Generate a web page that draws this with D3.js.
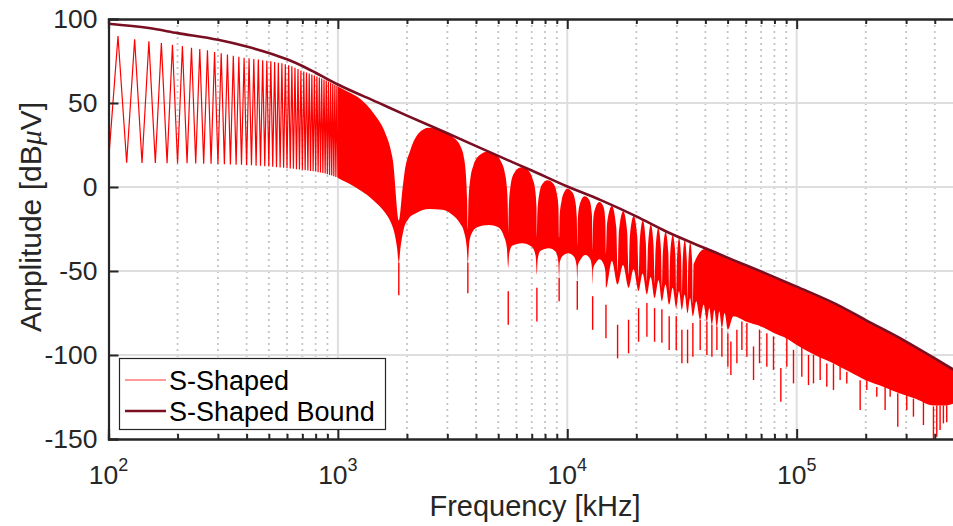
<!DOCTYPE html>
<html lang="en">
<head>
<meta charset="UTF-8" />
<title>S-Shaped spectrum</title>
<script src="https://d3js.org/d3.v7.min.js"></script>
<style>
  body { margin: 0; background: #fff; }
  svg { display: block; font-family: "Liberation Sans", Arial, sans-serif; }
</style>
</head>
<body>
<svg width="953" height="526" id="chart"></svg>
<script>
// ---- data (frequency in kHz, amplitude in dBuV) ----
const boundKHz = [100, 150, 200, 300, 400, 500, 600, 700, 800, 1000, 1500, 2000, 3000, 5000, 7000, 10000,
  14000, 20000, 27000, 40000, 53000, 75000, 100000, 150000, 200000, 300000, 400000, 500000];
const boundDb = [97.2, 94.6, 91.6, 87.6, 83.6, 79.8, 76, 72, 68, 61, 50.2, 42.5, 32, 18.5, 9.8, 0.3,
  -7.8, -17.5, -26.5, -36.5, -43.5, -52, -59.3, -70, -79.2, -92, -102, -110];

// individual harmonics (10 kHz spacing) where the comb is still resolved
const combKHz = [100, 110, 120, 130, 140, 150, 160, 170, 180, 190, 200, 210, 220, 230, 240, 250, 260, 270, 280, 290,
  300, 310, 320, 330, 340, 350, 360, 370, 380, 390, 400, 410, 420, 430, 440, 450, 460, 470, 480, 490,
  500, 510, 520, 530, 540, 550, 560, 570, 580, 590, 600, 610, 620, 630, 640, 650, 660, 670, 680, 690,
  700, 710, 720, 730, 740, 750, 760, 770, 780, 790, 800, 810, 820, 830, 840, 850, 860, 870, 880, 890,
  900, 910, 920, 930, 940, 950, 960, 970, 980, 990, 1000];
const combDb = [14.9, 89.9, 14.4, 87.9, 14.3, 86.7, 14.3, 85.7, 14.2, 84.7, 14.2, 83.9, 14.1, 82.9, 14.0, 82.1, 13.9, 81.4, 13.8, 80.4,
  13.7, 79.6, 13.6, 78.8, 13.4, 78.1, 13.3, 77.5, 13.2, 77.0, 13.0, 76.6, 12.9, 76.2, 12.7, 75.9, 12.6, 75.5, 12.4, 75.2,
  12.2, 74.8, 12.0, 74.4, 11.8, 74.0, 11.6, 73.6, 11.4, 73.1, 11.2, 72.5, 11.0, 71.8, 10.8, 71.0, 10.6, 70.2, 10.4, 69.4,
  10.2, 68.8, 10.0, 68.2, 9.8, 67.6, 9.6, 67.0, 9.4, 66.4, 9.2, 65.8, 8.8, 65.2, 8.6, 64.6, 8.4, 64.0, 8.0, 63.4,
  7.6, 62.8, 7.2, 62.2, 6.8, 61.5, 6.4, 60.8, 6.0, 60.2, 5.6];

// upper edge of the dense part of the spectrum
const topKHz = [1000, 1100, 1250, 1430, 1610, 1700, 1750, 1790, 1815, 1843,
  1870, 1900, 1950, 2070, 2250, 2490, 2800, 3150, 3430, 3560, 3620, 3660, 3686,
  3710, 3780, 3900, 4150, 4480, 4850, 5150, 5350, 5450, 5500, 5529,
  5560, 5650, 5850, 6300, 6750, 7050, 7250, 7340, 7372,
  7410, 7550, 7800, 8200, 8700, 9000, 9150, 9215,
  9260, 9450, 9700, 10000, 10500, 10850, 11000, 11058,
  11110, 11300, 11900, 12500, 12800, 12901,
  12950, 13150, 13800, 14400, 14650, 14744,
  14900, 15650, 16350, 16570, 16800, 17530, 18250, 18500, 18750, 19480, 20200, 20460, 20700, 21350,
  22000, 22240, 22480, 23130, 23780, 24020, 24260, 24930, 25600, 25850, 26100, 26830, 27570, 27820,
  28070, 28830, 29600, 29850, 30100, 30720, 31350, 31600, 31850, 32520, 33200, 33450, 33700, 34360,
  35030, 35280, 35530,
  40000, 53000, 75000, 100000, 150000, 200000, 300000, 400000, 500000];
const topDb = [59.8, 56.8, 52.5, 43.9, 32, 22, 12.1, -5, -15, -20,
  -15, -5, 8.2, 22, 32, 35.3, 33.9, 30, 24, 16, 6, -8, -25,
  -8, 5, 13, 19, 21, 19.5, 15, 8, 0, -10, -28,
  -12, 0, 8, 11.7, 10, 5, -2, -12, -30,
  -15, -4, 2, 4, 2, -4, -12, -30,
  -18, -8, -3, -1, -3, -9, -18, -35,
  -20, -11, -5.5, -8, -16, -38,
  -22, -14, -9, -12, -20, -40,
  -22, -11.3, -24, -50, -26, -14.4, -27, -52, -29, -17.3, -30, -54, -32, -20,
  -33, -56, -35, -22.4, -35, -58, -37, -24.6, -37, -60, -39, -26.8, -39, -62,
  -41, -28.7, -41, -64, -42, -30.3, -42, -65, -44, -31.7, -44, -67, -45, -33.1,
  -45, -69, -46,
  -36.8, -43.8, -52.3, -59.6, -70.3, -79.5, -92.3, -102.3, -110.3];

// lower edge of the dense part (domes between the nulls)
const lowKHz = [1000, 1100, 1250, 1430, 1610, 1700, 1760, 1810, 1843,
  1875, 1930, 2030, 2200, 2500, 2850, 3150, 3400, 3550, 3640, 3686,
  3730, 3820, 4050, 4550, 5000, 5280, 5450, 5529,
  5580, 5750, 6350, 7000, 7280, 7372,
  7430, 7650, 8300, 8900, 9130, 9215,
  9270, 9550, 10100, 10700, 10980, 11058,
  11120, 11450, 12000, 12600, 12830, 12901,
  12960, 13350, 13800, 14350, 14680, 14744,
  15650, 16570, 17500, 18500, 19450, 20460, 21300, 22240, 23100, 24020, 25000, 25850, 26800, 27820,
  28800, 29850, 30700, 31600, 32500, 33450, 34300, 35280, 36500, 37970, 39300, 40610, 41600, 42700,
  43800, 44900, 46000, 47210, 48500, 50130, 53000, 60000, 70000, 80000, 90000, 100000, 120000, 145000,
  170000, 200000, 240000, 280000, 330000, 395000, 450000, 500000];
const lowDb = [5.4, 2.5, -2, -8, -15.5, -21, -27, -36, -45,
  -36, -26, -19, -15.5, -13.1, -13.5, -16.5, -21.5, -27, -35, -45,
  -35, -28, -24, -22.6, -24, -29, -36, -48,
  -40, -35, -33.5, -35.5, -41, -52,
  -43, -38, -36.5, -38.5, -44, -54,
  -45, -41, -39.5, -41.5, -47, -56,
  -47, -43, -40.5, -43, -49, -58,
  -49, -45, -43, -45.5, -51, -60,
  -44, -58, -46.5, -60, -49, -62, -51.5, -64, -53.5, -66, -55.5, -68, -58, -70,
  -60, -72, -62, -73, -64, -75, -66, -77, -68, -79, -70, -80, -72, -82,
  -73, -83, -74, -84, -75, -85, -77, -80, -83, -87, -90, -94, -100, -105,
  -110, -115, -119, -122.8, -126, -130, -130, -128];

// narrow dips below the lower edge
const spikeKHz = [1843, 3686, 5529, 7372, 9215, 11058, 12901, 14744, 16570, 18500, 20460, 22240, 24020, 25850,
  27820, 29850, 31600, 33450, 35280, 37970, 40610, 42700, 44900, 47210, 50130, 51670, 54880, 57700,
  60670, 64860, 68870, 74130, 79250, 85310, 90600, 96870, 105300, 112600, 118400, 126600, 135300,
  144700, 154700, 165400, 189100, 202200, 223500, 243000, 255600, 275900, 302000, 322900, 357000,
  394700, 408100, 421900, 436200, 451000];
const spikeDb = [-64.5, -63.3, -82, -80, -68, -73, -85, -90.1, -102, -99, -92.1, -89.1, -92.1, -92.7,
  -97, -97, -104.9, -104.9, -101, -97, -100, -101, -97, -101, -107, -111.9, -104.9, -97,
  -101, -114.9, -104.9, -107, -108.9, -127.8, -107, -116.9, -112.9, -117.9, -116.9, -114.9, -118.9,
  -120.8, -114.9, -116.9, -132.7, -120.8, -124.8, -132.7, -124.8, -142.7, -132.7, -136.7, -141.7,
  -150.6, -148.6, -144.6, -140.7, -140];

const xTicks = [100, 1000, 10000, 100000];
const yTicks = [-150, -100, -50, 0, 50, 100];
const legendNames = ["S-Shaped", "S-Shaped Bound"];

// ---- layout ----
const svg = d3.select("#chart");
const plotL = 108.5, plotR = 957, plotT = 19, plotB = 439;
const red = "#ff0000", maroon = "#7a0f22", axisColor = "#262626";

const x = d3.scaleLog().domain([100, 500000]).range([plotL, plotR]);
const y = d3.scaleLinear().domain([-150, 100]).range([plotB, plotT]);

const defs = svg.append("defs");
defs.append("clipPath").attr("id", "plotClip")
  .append("rect").attr("x", plotL).attr("y", plotT).attr("width", plotR - plotL).attr("height", plotB - plotT);

const zip = (a, b) => a.map((v, i) => [v, b[i]]);
const boundPts = zip(boundKHz, boundDb);
const combPts = zip(combKHz, combDb);
const topPts = zip(topKHz, topDb);
const lowPts = zip(lowKHz, lowDb);

// grid
const grid = svg.append("g");
const minorX = x.ticks().filter(d => !xTicks.includes(d) && d < 500000);
grid.selectAll(".minor").data(minorX).join("line")
  .attr("x1", d => x(d)).attr("x2", d => x(d)).attr("y1", plotT).attr("y2", plotB)
  .attr("stroke", "#c4c4c4").attr("stroke-width", 1.8).attr("stroke-dasharray", "2,4");
grid.selectAll(".majx").data(xTicks.slice(1)).join("line")
  .attr("x1", d => x(d)).attr("x2", d => x(d)).attr("y1", plotT).attr("y2", plotB)
  .attr("stroke", "#dedede").attr("stroke-width", 2);
grid.selectAll(".majy").data(yTicks.slice(1, -1)).join("line")
  .attr("x1", plotL).attr("x2", plotR).attr("y1", d => y(d)).attr("y2", d => y(d))
  .attr("stroke", "#dedede").attr("stroke-width", 2);

// data
const plot = svg.append("g").attr("clip-path", "url(#plotClip)");

defs.append("clipPath").attr("id", "bandClip")
  .append("path")
  .attr("d", d3.area().x(d => x(d[0])).y0(plotT - 5).y1(d => y(d[1])).curve(d3.curveMonotoneX)(lowPts));

plot.append("g").attr("clip-path", "url(#bandClip)")
  .append("path")
  .attr("fill", red)
  .attr("d", d3.area().x(d => x(d[0])).y0(plotB + 5).y1(d => y(d[1])).curve(d3.curveMonotoneX)(topPts));

plot.selectAll(".spike").data(spikeKHz).join("line")
  .attr("x1", d => x(d)).attr("x2", d => x(d))
  .attr("y1", (d, i) => y(Math.min(d3.least(lowPts, p => Math.abs(p[0] - d))[1], spikeDb[i] + 20)))
  .attr("y2", (d, i) => y(spikeDb[i]))
  .attr("stroke", red).attr("stroke-width", 1.4);

plot.append("path")
  .attr("fill", "none").attr("stroke", red).attr("stroke-width", 1.2)
  .attr("d", d3.line().x(d => x(d[0])).y(d => y(d[1]))(combPts));

plot.append("path")
  .attr("fill", "none").attr("stroke", maroon).attr("stroke-width", 2.6)
  .attr("d", d3.line().x(d => x(d[0])).y(d => y(d[1])).curve(d3.curveMonotoneX)(boundPts));

// axes
const axes = svg.append("g").attr("color", axisColor);
axes.append("g").attr("transform", `translate(0,${plotB})`)
  .call(d3.axisBottom(x).tickValues(xTicks).tickSize(-10).tickFormat(""));
axes.append("g").attr("transform", `translate(0,${plotB})`)
  .call(d3.axisBottom(x).tickValues(minorX).tickSize(-5).tickFormat(""));
axes.append("g").attr("transform", `translate(0,${plotT})`)
  .call(d3.axisTop(x).tickValues(xTicks).tickSize(-10).tickFormat(""));
axes.append("g").attr("transform", `translate(0,${plotT})`)
  .call(d3.axisTop(x).tickValues(minorX).tickSize(-5).tickFormat(""));
const yl = axes.append("g").attr("transform", `translate(${plotL},0)`)
  .call(d3.axisLeft(y).tickValues(yTicks).tickSize(-10).tickPadding(11).tickFormat(d => String(d)));
axes.selectAll(".domain").attr("stroke-width", 2.2);
axes.selectAll(".tick line").attr("stroke-width", 2);
yl.selectAll(".tick text").attr("font-size", 26.5).attr("fill", axisColor)
  .attr("font-family", "Liberation Sans, Arial, sans-serif");

// x tick labels as powers of ten
const xl = svg.append("g").attr("fill", axisColor).attr("font-size", 26.5);
xTicks.forEach(t => {
  const txt = xl.append("text").attr("x", x(t)).attr("y", 484).attr("text-anchor", "middle");
  txt.append("tspan").text("10");
  txt.append("tspan").attr("dy", -13).attr("font-size", 18).text(Math.round(Math.log10(t)));
});

// axis titles
svg.append("text").attr("x", 535).attr("y", 516).attr("text-anchor", "middle")
  .attr("font-size", 29).attr("fill", axisColor).text("Frequency [kHz]");
const yTitle = svg.append("text").attr("transform", "translate(41,217) rotate(-90)")
  .attr("text-anchor", "middle").attr("font-size", 30).attr("fill", axisColor);
yTitle.append("tspan").text("Amplitude [dB");
yTitle.append("tspan").attr("font-style", "italic").attr("font-family", "Liberation Serif, serif").text("\u03bc");
yTitle.append("tspan").text("V]");

// legend
const lg = svg.append("g");
lg.append("rect").attr("x", 119.5).attr("y", 358.5).attr("width", 266).attr("height", 71)
  .attr("fill", "#fff").attr("stroke", axisColor).attr("stroke-width", 1.2);
legendNames.forEach((name, i) => {
  const ly = 380 + i * 31;
  lg.append("line").attr("x1", 125).attr("x2", 166).attr("y1", ly).attr("y2", ly)
    .attr("stroke", i === 0 ? red : maroon).attr("stroke-width", i === 0 ? 0.8 : 2.6);
  lg.append("text").attr("x", 169).attr("y", ly + 9.5).attr("font-size", 27).attr("fill", "#000").text(name);
});
</script>
</body>
</html>
